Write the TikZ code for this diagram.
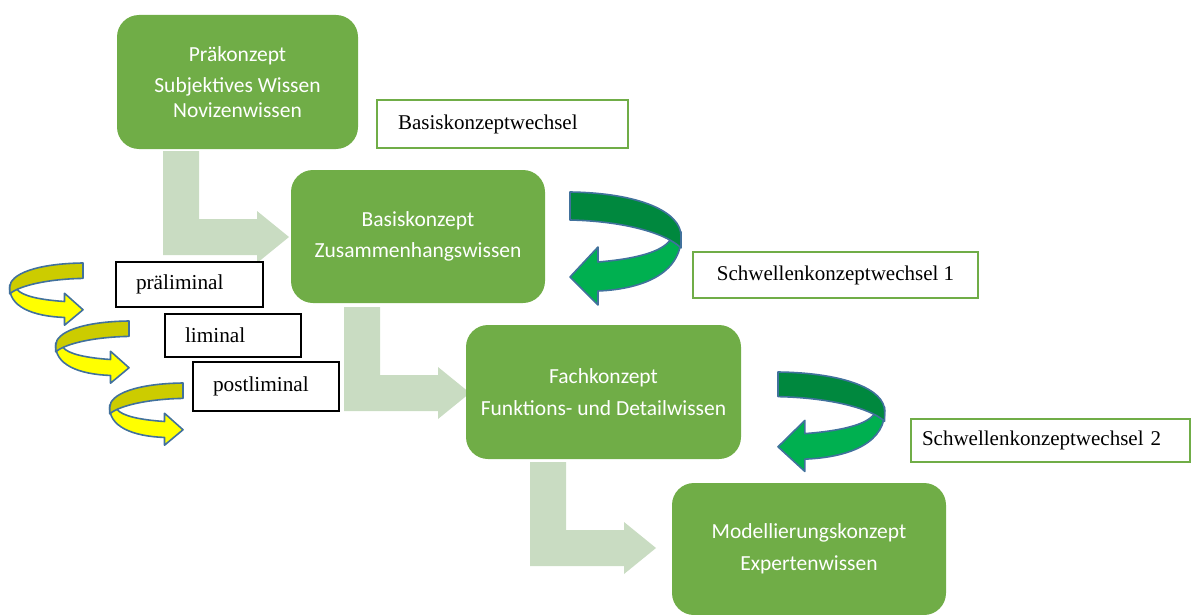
\documentclass[tikz,border=0pt]{standalone}
\usepackage{fontspec}
\setmainfont{Liberation Serif}
\newfontfamily\carlito{Carlito}
\definecolor{boxgreen}{RGB}{112,173,71}
\definecolor{lgreen}{RGB}{201,220,194}
\definecolor{curlline}{RGB}{65,113,156}
\definecolor{darkgr}{RGB}{0,136,62}
\definecolor{brightgr}{RGB}{0,176,80}
\definecolor{olive}{RGB}{204,204,0}
\definecolor{brighty}{RGB}{255,255,0}
\tikzset{
  gbox/.style={fill=boxgreen, draw=none, rounded corners=22pt, text=white,
    font=\carlito\fontsize{21.5}{24.5}\selectfont, align=center, inner sep=0pt},
  lbox/.style={draw=boxgreen, line width=2.2pt, fill=white, inner xsep=21pt, inner ysep=0pt,
    font=\fontsize{21}{24}\selectfont, align=left},
  kbox/.style={draw=black, line width=1.2pt, fill=white, inner xsep=20pt, inner ysep=0pt,
    font=\fontsize{21.3}{24}\selectfont, align=left},
  curl/.style={draw=curlline, line width=1.6pt, line join=round},
  larrow/.style={fill=lgreen, draw=none}
}
\newcommand\curlshape[2]{%
  \path[curl, fill=#2] (28,70) .. controls (65,67) and (92,60) .. (100,48) -- (111,40)
    .. controls (114,80) and (75,97) .. (28,99) -- (28,113) -- (0,85) -- (28,55) -- cycle;
  \path[curl, fill=#1] (0,0) .. controls (70,1) and (111,20) .. (111,44) -- (111,56)
    .. controls (95,40) and (50,29) .. (0,28) -- cycle;}
\newcommand\lshape{%
  \path[larrow] (0,0) -- (36,0) -- (36,68) -- (94,68) -- (94,60) -- (126,86)
    -- (94,112) -- (94,104) -- (0,104) -- cycle;}
\begin{document}
\begin{tikzpicture}[x=1pt,y=-1pt]
\useasboundingbox (0,0) rectangle (1198,615);
% light green L-shaped arrows
\begin{scope}[shift={(163,151)}]\lshape\end{scope}
\begin{scope}[shift={(344,307)}]\lshape\end{scope}
\begin{scope}[shift={(530,462)}]\lshape\end{scope}
% concept boxes
\node[gbox, minimum width=241pt, minimum height=134pt] (prae) at (237.5,82)
  {Präkonzept\\[7pt]Subjektives Wissen\\Novizenwissen};
\node[gbox, minimum width=254pt, minimum height=133pt] (basis) at (418,236.5)
  {Basiskonzept\\[7pt]Zusammenhangswissen};
\node[gbox, minimum width=275pt, minimum height=134pt] (fach) at (603.5,392)
  {Fachkonzept\\[7pt]Funktions- und Detailwissen};
\node[gbox, minimum width=274pt, minimum height=132pt] (model) at (809,549)
  {Modellierungskonzept\\[7pt]Expertenwissen};
% label boxes
\node[lbox, minimum width=251pt, minimum height=48pt, text width=209pt] (bkw) at (502.5,124)
  {Basiskonzeptwechsel};
\node[lbox, minimum width=285pt, minimum height=46pt, inner xsep=4pt] (skw1) at (835.5,275)
  {Schwellenkonzeptwechsel 1};
\node[lbox, minimum width=279pt, minimum height=43pt, text width=257pt, inner xsep=11pt] (skw2) at (1050.5,440.5)
  {Schwellenkonzeptwechsel 2};
\node[kbox, minimum width=147pt, minimum height=45pt, text width=107pt] (prael) at (189.5,284.5)
  {präliminal};
\node[kbox, minimum width=136pt, minimum height=43pt, text width=96pt] (lim) at (233,335.5)
  {liminal};
\node[kbox, minimum width=146pt, minimum height=49pt, text width=106pt] (postl) at (266,386.5)
  {postliminal};
% green curved arrows
\begin{scope}[shift={(570,192)}]\curlshape{darkgr}{brightgr}\end{scope}
\begin{scope}[shift={(778,372)}, xscale=0.96, yscale=0.88]\curlshape{darkgr}{brightgr}\end{scope}
% yellow curved arrows
\begin{scope}[shift={(83,263)}, xscale=-0.66, yscale=0.55]\curlshape{olive}{brighty}\end{scope}
\begin{scope}[shift={(129,321)}, xscale=-0.66, yscale=0.55]\curlshape{olive}{brighty}\end{scope}
\begin{scope}[shift={(183,383)}, xscale=-0.66, yscale=0.55]\curlshape{olive}{brighty}\end{scope}
\end{tikzpicture}
\end{document}
